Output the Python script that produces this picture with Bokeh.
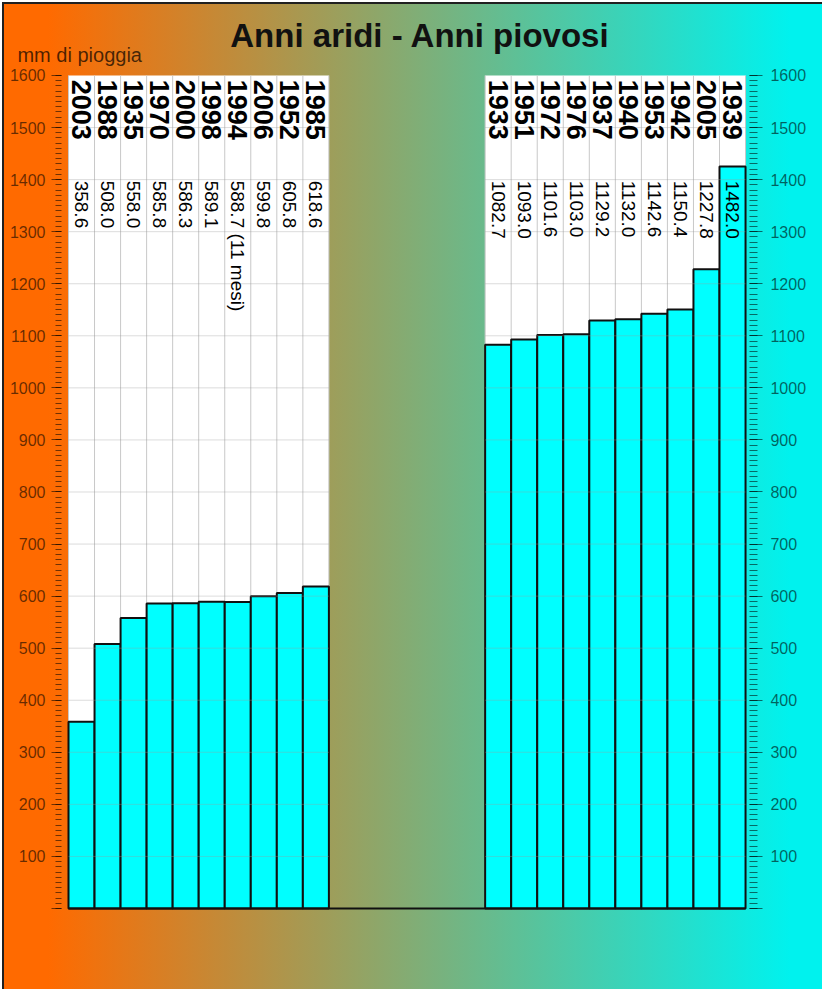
import numpy as np
from bokeh.plotting import figure
from bokeh.models import Range1d, FixedTicker, LinearAxis, Label
from bokeh.embed import file_html
from bokeh.resources import INLINE
from bokeh.core.properties import value

# ---- data ----
title_text = "Anni aridi - Anni piovosi"
unit_text = "mm di pioggia"

dry_years = ["2003", "1988", "1935", "1970", "2000", "1998", "1994", "2006", "1952", "1985"]
dry_mm = [358.6, 508.0, 558.0, 585.8, 586.3, 589.1, 588.7, 599.8, 605.8, 618.6]
dry_labels = ["358.6", "508.0", "558.0", "585.8", "586.3", "589.1", "588.7 (11 mesi)",
              "599.8", "605.8", "618.6"]

wet_years = ["1933", "1951", "1972", "1976", "1937", "1940", "1953", "1942", "2005", "1939"]
wet_labels = ["1082.7", "1093.0", "1101.6", "1103.0", "1129.2", "1132.0", "1142.6",
              "1150.4", "1227.8", "1482.0"]
# bar heights as drawn in the picture (the 1939 bar is drawn shorter than its label)
wet_mm = [1082.7, 1093.0, 1101.6, 1103.0, 1129.2, 1132.0, 1142.6, 1150.4, 1227.8, 1425.0]

gap_slots = 6
y_ticks = list(range(0, 1700, 100))
y_minor = list(range(0, 1610, 10))

# ---- layout helpers ----
n_dry = len(dry_years)
n_wet = len(wet_years)
wet_start = n_dry + gap_slots
n_slots = wet_start + n_wet
y_top = y_ticks[-1]

W, H = 822, 989
slot_px = 26.04          # pixels per category slot
mm_px = 0.52063          # pixels per mm
x0_px, y0_px = 68, 908   # canvas position of slot 0 / 0 mm

FONT = value("Liberation Sans")

p = figure(width=W, height=H, output_backend="svg", toolbar_location=None,
           x_range=Range1d(-x0_px / slot_px, (W - x0_px) / slot_px),
           y_range=Range1d(-(H - y0_px) / mm_px, y0_px / mm_px),
           x_axis_location=None, y_axis_location=None,
           min_border=0)
p.title.visible = False
p.background_fill_color = None
p.border_fill_color = None
p.outline_line_color = None
for g in p.grid:
    g.visible = False

p.styles = {
    "background": "linear-gradient(to right, #ff6a00 0px, #ff6a00 48px, #00f2ee 790px, #00f2ee 100%)",
    "box-shadow": "inset 2px 2px 0 #ffffff, inset 4px 4px 0 #202020",
}

ticker = FixedTicker(ticks=y_ticks, minor_ticks=y_minor)
axis_specs = (("left", -0.27, 10, 6, 6), ("right", n_slots + 0.15, 13, 8, 8))
for side, loc, major_len, minor_len, standoff in axis_specs:
    ax = LinearAxis(ticker=ticker, major_label_overrides={0: ""}, fixed_location=loc)
    ax.axis_line_color = None
    ax.major_tick_in = 0
    ax.major_tick_out = major_len
    ax.minor_tick_in = 0
    ax.minor_tick_out = minor_len
    ax.major_tick_line_color = "black"
    ax.major_tick_line_alpha = 0.55
    ax.minor_tick_line_color = "black"
    ax.minor_tick_line_alpha = 0.55
    ax.major_label_text_font = "Liberation Sans"
    ax.major_label_text_font_size = "16px"
    ax.major_label_text_color = "black"
    ax.major_label_text_alpha = 0.6
    ax.major_label_standoff = standoff
    p.add_layout(ax, side)

# white panels behind the two groups
p.quad(left=[0, wet_start], right=[n_dry, n_slots], bottom=0, top=y_top,
       fill_color="white", line_color=None)

# vertical grid at column boundaries
bounds = list(range(0, n_dry + 1)) + list(range(wet_start, n_slots + 1))
p.segment(x0=bounds, y0=0, x1=bounds, y1=y_top, line_color="#c8c8c8", line_width=1)

# bars
x_dry = [i + 0.5 for i in range(n_dry)]
x_wet = [wet_start + i + 0.5 for i in range(n_wet)]
p.vbar(x=x_dry + x_wet, width=1, bottom=0, top=dry_mm + wet_mm,
       fill_color="#00ffff", line_color="#101010", line_width=2)

# horizontal grid over the panels
hx0, hx1, hy = [], [], []
for t in y_ticks[1:-1]:
    for a, b in ((0, n_dry), (wet_start, n_slots)):
        hx0.append(a); hx1.append(b); hy.append(t)
p.segment(x0=hx0, y0=hy, x1=hx1, y1=hy, line_color="#9a9a9a", line_alpha=0.35, line_width=1)

# baseline
p.segment(x0=[0], y0=[0], x1=[n_slots], y1=[0], line_color="#101010", line_width=2)

# year labels (rotated, reading downward)
p.text(x=x_dry + x_wet, y=1592, text=dry_years + wet_years, angle=-np.pi / 2,
       text_align="left", text_baseline="middle", text_font=FONT,
       text_font_size="27px", text_font_style="bold", text_color="black")

# value labels
p.text(x=x_dry + x_wet, y=1398, text=dry_labels + wet_labels, angle=-np.pi / 2,
       text_align="left", text_baseline="middle", text_font=FONT,
       text_font_size="19px", text_color="black")

p.add_layout(Label(x=13.5, y=1677, text=title_text, text_align="center",
                   text_baseline="alphabetic", text_font="Liberation Sans",
                   text_font_size="33px", text_font_style="bold", text_color="#111111"))
p.add_layout(Label(x=-1.96, y=1640, text=unit_text, text_align="left",
                   text_baseline="alphabetic", text_font="Liberation Sans",
                   text_font_size="20px", text_color="black", text_alpha=0.7))

open("out.html", "w").write(file_html(p, INLINE))
